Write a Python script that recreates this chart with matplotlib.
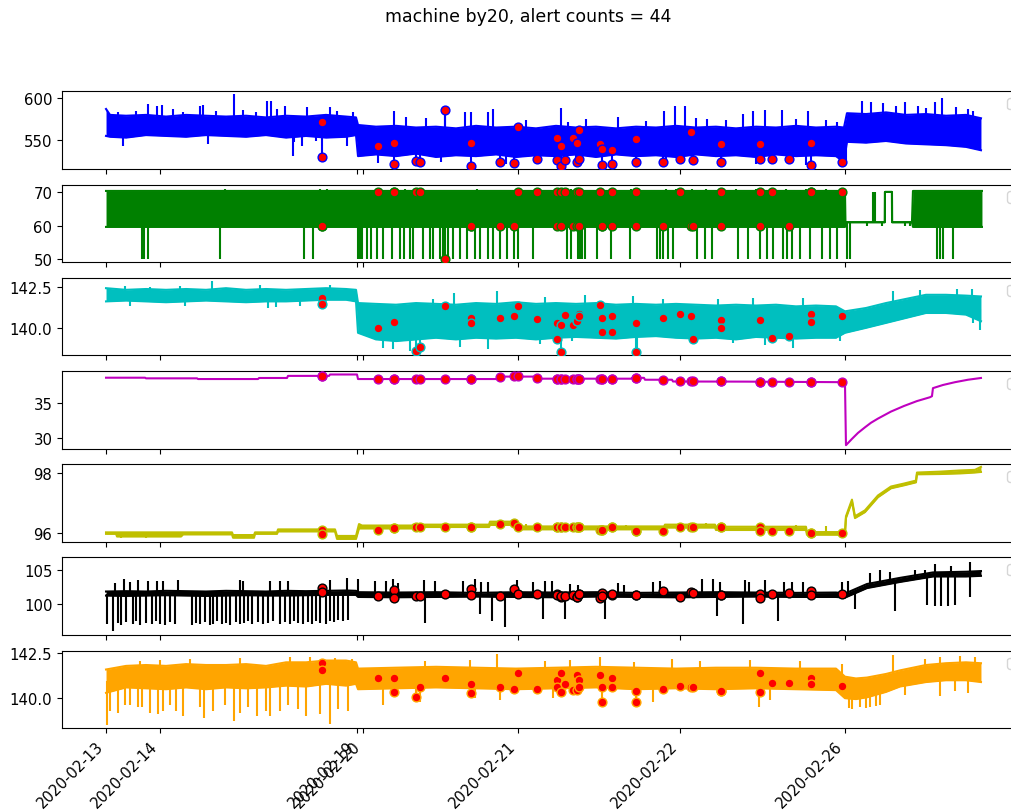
import numpy as np
import matplotlib
matplotlib.use('Agg')
import matplotlib.pyplot as plt

machine = 'by20'

# x axis is the sample position; dates are only shown at a few positions
tick_pos = [0, 54, 251, 257, 412, 574, 739]
tick_labels = ['2020-02-13', '2020-02-14', '2020-02-19', '2020-02-20',
               '2020-02-21', '2020-02-22', '2020-02-26']

# alert positions and the value of every channel at those positions
alert_t = [216, 216, 272, 288, 288, 310, 314, 339, 365, 365,
           394, 408, 412, 431, 451, 451, 455, 455, 459, 467,
           471, 471, 473, 473, 494, 496, 496, 506, 506, 530,
           530, 557, 574, 585, 587, 615, 615, 654, 654, 666,
           683, 705, 705, 736]
alert_blue = [572, 530, 543, 547, 522, 525, 524, 586, 547, 519,
              524, 523, 566, 528, 552, 526, 543, 519, 526, 552,
              547, 524, 562, 527, 545, 539, 520, 538, 522, 551,
              524, 524, 528, 560, 526, 546, 524, 546, 528, 527,
              528, 547, 520, 524]
alert_green = [60, 60, 70, 70, 70, 70, 70, 50, 60, 60,
               60, 60, 70, 70, 70, 60, 70, 60, 70, 60,
               70, 60, 70, 60, 70, 60, 60, 70, 60, 70,
               60, 60, 70, 60, 60, 70, 60, 70, 60, 70,
               60, 70, 70, 70]
alert_cyan = [141.8, 141.45, 140.0, 140.35, 140.35, 138.6, 138.85, 141.35, 140.6, 140.3,
              140.6, 140.7, 141.35, 140.55, 140.3, 139.3, 140.2, 138.55, 140.75, 140.2,
              140.4, 140.4, 140.85, 140.7, 141.4, 140.6, 139.75, 140.7, 139.75, 140.3,
              138.55, 140.6, 140.85, 140.7, 139.35, 140.5, 140.0, 140.5, 140.5, 139.4,
              139.5, 140.85, 140.35, 140.7]
alert_mag = [38.9, 38.9, 38.45, 38.45, 38.45, 38.45, 38.45, 38.45, 38.45, 38.45,
             38.8, 38.85, 38.85, 38.55, 38.5, 38.5, 38.5, 38.5, 38.5, 38.5,
             38.5, 38.5, 38.5, 38.5, 38.5, 38.5, 38.5, 38.5, 38.5, 38.6,
             38.6, 38.35, 38.1, 38.1, 38.1, 38.1, 38.1, 38.05, 38.05, 38.05,
             38.0, 38.0, 38.0, 38.0]
alert_olive = [96.1, 95.96, 96.1, 96.18, 96.18, 96.2, 96.2, 96.2, 96.2, 96.2,
               96.3, 96.32, 96.2, 96.2, 96.2, 96.2, 96.2, 96.2, 96.2, 96.2,
               96.2, 96.2, 96.2, 96.2, 96.1, 96.1, 96.1, 96.2, 96.2, 96.08,
               96.08, 96.08, 96.2, 96.2, 96.2, 96.2, 96.2, 96.2, 96.08, 96.08,
               96.08, 96.0, 96.0, 96.0]
alert_black = [102.25, 101.75, 101.1, 101.95, 100.8, 101.2, 101.2, 101.4, 102.1, 101.3,
               101.2, 102.1, 101.5, 101.5, 101.45, 101.3, 100.97, 101.15, 101.2, 101.25,
               101.0, 101.0, 101.5, 101.5, 100.8, 101.6, 101.2, 101.3, 101.4, 101.3,
               101.3, 101.85, 100.95, 101.7, 101.6, 101.35, 101.35, 101.5, 100.8, 101.45,
               101.6, 101.9, 101.35, 101.4]
alert_orange = [141.95, 141.55, 141.15, 141.15, 140.35, 140.05, 140.6, 141.15, 140.8, 140.3,
                140.6, 140.5, 141.4, 140.5, 141.0, 140.6, 141.4, 140.35, 140.8, 140.45,
                141.3, 140.45, 141.0, 140.6, 141.3, 140.6, 139.8, 141.1, 140.6, 140.4,
                139.8, 140.5, 140.7, 140.65, 140.65, 140.4, 140.4, 141.4, 140.35, 140.85,
                140.85, 141.1, 140.8, 140.7]

# channel 1 (blue): upper / lower edge of the noise band, plus single spikes
blue_t = [0, 4, 20, 40, 60, 80, 100, 120, 140, 160, 180, 200, 220, 240, 250,
          252, 270, 290, 310, 330, 350, 370, 390, 410, 430, 450, 470, 490, 510,
          530, 550, 570, 590, 610, 630, 650, 670, 690, 710, 730, 738,
          741, 760, 780, 800, 820, 840, 860, 875]
blue_hi = [587, 580, 579, 580, 578, 580, 579, 578, 579, 577, 579, 578, 580, 578, 577,
           568, 566, 567, 565, 566, 564, 567, 565, 566, 564, 567, 565, 566, 564,
           566, 565, 567, 565, 566, 564, 566, 565, 567, 565, 566, 565,
           582, 581, 583, 580, 581, 579, 580, 576]
blue_lo = [555, 554, 553, 556, 555, 554, 556, 555, 554, 556, 553, 555, 553, 554, 556,
           531, 533, 531, 534, 530, 532, 531, 533, 530, 532, 531, 533, 530, 533,
           531, 532, 530, 533, 531, 532, 530, 533, 531, 532, 531, 524,
           548, 547, 549, 546, 545, 544, 542, 538]
blue_spike_t = [42, 51, 56, 67, 94, 97, 128, 161, 165, 171, 179, 201, 224, 231, 288,
                339, 359, 365, 382, 387, 455, 462, 512, 558, 569, 579, 601, 637, 647,
                659, 676, 702, 731, 756, 765, 777, 799, 812, 829, 836, 862, 867,
                17, 102, 187, 196, 241, 272, 310, 335, 400, 430, 455, 470, 530, 560,
                615, 650, 700, 740,
                12, 30, 77, 110, 137, 150, 188, 210, 247, 300, 320, 420, 480, 540,
                590, 620, 690, 720, 790, 820, 850]
blue_spike_v = [593, 591, 592, 587, 591, 592, 604.8, 597, 596, 587, 591, 589, 589, 585, 585,
                587, 584, 583, 583, 587, 587.6, 571, 578, 585, 591, 591, 575, 581, 585,
                586, 586, 585, 571, 597, 595, 594, 595, 591, 595, 600, 587, 585,
                543, 545, 531.6, 543, 543, 523, 521, 524, 522, 525, 521, 524, 525, 523,
                524, 522, 521, 522,
                584, 585, 584, 585, 586, 584, 548, 549, 583, 577, 576, 574, 575, 573,
                576, 574, 575, 574, 590, 588, 589]

# channel 2 (green): switches between 60 and 70
green_t = [0, 739, 739.5, 778.9, 779, 786, 786.1, 806, 807, 876]
green_hi = [70.3, 70.3, 61, 61, 70, 70, 61, 61, 70.3, 70.3]
green_lo = [59.6, 59.6, 61, 61, 70, 70, 61, 61, 59.6, 59.6]
green_dip_floor = 50.0
green_dip_t = [36, 38, 42, 114, 198, 207, 252, 254, 256, 261, 265, 271, 277, 286, 294,
               298, 304, 307, 317, 324, 327, 334, 337, 342, 347, 354, 361, 369, 374,
               382, 387, 394, 401, 408, 412, 427, 461, 465, 472, 474, 476, 479, 491,
               505, 524, 551, 554, 557, 562, 567, 591, 599, 606, 632, 642, 654, 661,
               667, 677, 681, 686, 694, 704, 716, 724, 731, 741, 744, 831, 834, 837, 847]
green_spike_t = [119, 214, 221, 272, 290, 299, 371, 465, 470, 525, 560, 570, 586, 600,
                 630, 650, 680, 700, 720, 761, 776, 799, 804, 767, 769]
green_spike_v = [71, 71, 71, 71, 71, 71, 71, 71, 71, 71, 71, 71, 71, 71,
                 71, 71, 71, 71, 71, 60, 60, 60, 60, 70, 70]

# channel 3 (cyan)
cyan_t = [0, 20, 40, 60, 80, 100, 120, 140, 160, 180, 200, 220, 240, 250,
          252, 270, 290, 310, 330, 350, 370, 390, 410, 430, 450, 470, 490, 510,
          530, 550, 570, 590, 610, 630, 650, 670, 690, 710, 730,
          739, 760, 780, 800, 820, 840, 860, 875]
cyan_hi = [142.4, 142.3, 142.35, 142.3, 142.35, 142.3, 142.4, 142.3, 142.35, 142.3,
           142.35, 142.4, 142.35, 142.3,
           141.5, 141.45, 141.4, 141.5, 141.45, 141.4, 141.5, 141.45, 141.55, 141.45,
           141.5, 141.45, 141.5, 141.4, 141.45, 141.4, 141.45, 141.4, 141.35, 141.4,
           141.35, 141.4, 141.3, 141.35, 141.3,
           141.0, 141.2, 141.5, 141.75, 142.0, 142.0, 141.95, 141.9]
cyan_lo = [141.6, 141.65, 141.6, 141.55, 141.6, 141.65, 141.6, 141.55, 141.6, 141.6,
           141.65, 141.7, 141.7, 141.6,
           139.7, 139.3, 139.2, 139.3, 139.4, 139.3, 139.4, 139.35, 139.4, 139.3,
           139.4, 139.45, 139.4, 139.35, 139.45, 139.5, 139.4, 139.35, 139.4, 139.3,
           139.45, 139.4, 139.35, 139.4, 139.4,
           139.7, 140.0, 140.3, 140.6, 140.9, 140.9, 140.8, 140.4]
cyan_spike_t = [106, 19, 44, 74, 154, 224, 24, 79, 162, 170, 194,
                277, 287, 304, 354, 382, 434, 466, 531, 627, 659, 687, 734,
                327, 348, 391, 439, 479, 527, 557, 612, 647, 697,
                787, 814, 851, 866, 867, 874]
cyan_spike_v = [142.81, 142.55, 142.5, 142.55, 142.6, 142.6, 141.35, 141.3, 141.2, 141.25, 141.3,
                138.8, 138.7, 138.6, 138.85, 138.7, 139.0, 139.2, 138.7, 139.1, 138.95, 138.8, 139.2,
                141.75, 142.1, 142.2, 141.85, 142.0, 141.95, 141.75, 141.75, 141.8, 141.8,
                142.25, 142.3, 142.35, 142.35, 140.3, 139.9]

# channel 4 (magenta): smooth level, sharp drop and recovery at the end
mag_t = [0, 39, 40, 91, 92, 152, 153, 181, 182, 223, 224, 251, 252, 393, 394, 430,
         431, 525, 526, 538, 539, 566, 567, 640, 739, 740, 743, 746, 752, 759, 765,
         772, 785, 798, 811, 824, 826, 827, 837, 849, 862, 875]
mag_v = [38.64, 38.64, 38.55, 38.55, 38.45, 38.45, 38.6, 38.6, 38.9, 38.9, 39.1, 39.1,
         38.45, 38.45, 38.8, 38.8, 38.5, 38.5, 38.62, 38.62, 38.35, 38.35, 38.1, 38.08,
         38.0, 29.0, 29.45, 29.9, 30.75, 31.55, 32.2, 32.8, 33.8, 34.6, 35.3, 35.85,
         36.0, 37.15, 37.6, 38.0, 38.35, 38.6]

# channel 5 (olive)
olive_t = [0, 10, 11, 75, 77, 126, 127, 148, 149, 171, 172, 229, 231, 250, 253, 256,
           306, 307, 383, 384, 409, 410, 558, 559, 609, 610, 700, 701, 739, 740, 746,
           749, 759, 772, 785, 798, 810, 811, 834, 854, 869, 875]
olive_hi = [96.02, 96.02, 96.02, 96.02, 96.02, 96.02, 95.93, 95.93, 96.02, 96.02,
            96.12, 96.12, 95.9, 95.9, 96.3, 96.25, 96.25, 96.28, 96.28, 96.38, 96.38,
            96.22, 96.22, 96.28, 96.28, 96.21, 96.21, 96.03, 96.03, 96.56, 97.12,
            96.56, 96.76, 97.26, 97.56, 97.66, 97.76, 98.03, 98.06, 98.1, 98.12, 98.22]
olive_lo = [95.97, 95.97, 95.88, 95.88, 95.95, 95.95, 95.84, 95.84, 95.97, 95.97,
            96.05, 96.05, 95.8, 95.8, 96.15, 96.15, 96.15, 96.2, 96.2, 96.27, 96.27,
            96.12, 96.12, 96.18, 96.18, 96.1, 96.1, 95.94, 95.94, 96.5, 97.05,
            96.5, 96.7, 97.2, 97.5, 97.6, 97.7, 97.97, 97.98, 98.0, 98.03, 98.05]
olive_spike_t = [15, 40, 60, 140, 145, 240, 245, 395, 420, 520, 600, 690, 720]
olive_spike_v = [95.84, 95.84, 95.85, 95.82, 95.82, 95.82, 95.83, 96.42, 96.3, 96.28,
                 96.33, 96.28, 96.25]

# channel 6 (black)
black_t = [0, 20, 40, 60, 80, 100, 120, 140, 160, 180, 200, 220, 240, 250,
           252, 290, 330, 370, 410, 450, 490, 530, 570, 610, 650, 690, 730,
           739, 761, 794, 827, 860, 875]
black_hi = [101.8, 101.85, 101.8, 101.9, 101.85, 101.8, 101.9, 101.85, 101.8, 101.9,
            101.85, 101.9, 101.95, 101.9,
            101.7, 101.65, 101.7, 101.6, 101.7, 101.65, 101.7, 101.6, 101.65, 101.7,
            101.65, 101.6, 101.65,
            101.5, 102.9, 103.8, 104.6, 104.7, 104.8]
black_lo = [101.2, 101.15, 101.2, 101.25, 101.2, 101.15, 101.2, 101.25, 101.2, 101.2,
            101.25, 101.3, 101.3, 101.3,
            101.0, 100.95, 101.0, 101.05, 101.0, 100.95, 101.05, 101.0, 100.95, 101.0,
            101.05, 101.0, 101.0,
            100.9, 102.3, 103.2, 104.0, 104.0, 104.1]
black_spike_t = [1, 7, 12, 15, 20, 27, 30, 34, 40, 46, 50, 54, 59, 64, 69, 86, 90, 94,
                 99, 104, 107, 111, 116, 120, 124, 130, 134, 138, 142, 146, 152, 157,
                 162, 167, 174, 179, 184, 188, 192, 197, 202, 206, 210, 214, 220, 224,
                 228, 232, 237, 242,
                 9, 18, 24, 32, 42, 51, 57, 72, 134, 137, 164, 174, 182, 224, 241, 252,
                 269, 280, 287, 292, 318, 329, 357, 369, 375, 382, 411, 427, 439, 446,
                 464, 472, 512, 518, 547, 554, 596, 607, 614, 639, 643, 659, 678, 686,
                 697, 736, 742,
                 319, 374, 386, 399, 437, 459, 499, 611, 637, 672, 749, 789, 821, 829,
                 835, 842, 849, 864,
                 764, 774, 784, 809, 819, 829, 845, 864]
black_spike_v = [97.0, 96.0, 97.2, 96.9, 97.3, 97.0, 97.4, 96.9, 97.2, 97.0, 97.4, 97.1,
                 96.9, 97.3, 97.0, 96.9, 97.2, 97.0, 97.3, 96.9, 97.1, 97.4, 97.0, 97.2,
                 96.9, 97.3, 97.0, 97.2, 97.4, 97.0, 97.3, 97.1, 97.2, 97.4, 97.0, 97.3,
                 97.1, 97.4, 97.2, 97.0, 97.3, 97.1, 97.5, 97.2, 97.0, 97.4, 97.3, 97.6,
                 97.5, 97.6,
                 103.0, 103.6, 103.2, 103.5, 103.3, 103.4, 103.3, 103.5, 103.5, 103.3,
                 103.4, 103.4, 103.3, 103.5, 103.75, 103.6,
                 103.4, 103.3, 103.6, 103.0, 103.5, 103.3, 103.4, 103.6, 103.2, 103.2,
                 103.5, 103.2, 103.3, 103.3, 102.9, 102.7, 103.0, 102.8, 103.2, 103.3,
                 103.7, 103.6, 103.2, 103.5, 103.2, 103.5, 103.2, 103.2, 103.2, 103.2,
                 103.3,
                 97.2, 98.5, 97.4, 96.6, 97.7, 97.7, 97.8, 98.2, 97.1, 97.4, 99.2, 99.0,
                 99.8, 99.6, 99.7, 99.6, 99.8, 101.0,
                 104.5, 104.9, 104.7, 105.0, 104.9, 105.8, 105.5, 106.2]

# channel 7 (orange)
orange_t = [0, 20, 40, 60, 80, 100, 120, 140, 160, 180, 200, 220, 240, 250,
            252, 290, 330, 370, 410, 450, 490, 530, 570, 610, 650, 690, 730,
            739, 750, 761, 780, 794, 820, 840, 860, 875]
orange_hi = [141.6, 141.8, 141.85, 141.8, 141.9, 141.85, 141.85, 141.9, 141.8, 142.0,
             142.0, 142.1, 142.1, 142.0,
             141.65, 141.7, 141.75, 141.7, 141.65, 141.7, 141.75, 141.7, 141.65, 141.7,
             141.7, 141.65, 141.65,
             141.2, 141.1, 141.15, 141.35, 141.55, 141.85, 141.95, 142.0, 141.95]
orange_lo = [140.3, 140.6, 140.55, 140.5, 140.6, 140.5, 140.6, 140.55, 140.6, 140.7,
             140.65, 140.8, 140.7, 140.8,
             140.5, 140.55, 140.6, 140.55, 140.5, 140.55, 140.6, 140.5, 140.55, 140.5,
             140.55, 140.5, 140.45,
             140.0, 139.95, 140.05, 140.35, 140.65, 140.9, 141.0, 141.0, 140.9]
orange_spike_t = [1, 4, 12, 19, 24, 32, 36, 44, 52, 57, 64, 70, 77, 94, 98, 107, 119,
                  128, 134, 142, 151, 160, 164, 174, 182, 192, 200, 214, 224, 232, 242,
                  277, 314, 369, 394, 447, 547, 653, 664,
                  34, 54, 84, 134, 184, 204, 229, 246,
                  319, 364, 391, 439, 464, 494, 528, 566, 594, 644, 694, 736,
                  787, 819, 834, 854, 869, 743, 746, 754, 760, 764, 770, 774, 799, 834,
                  849, 862]
orange_spike_v = [138.5, 139.3, 139.2, 139.6, 139.6, 139.5, 139.5, 139.2, 139.1, 139.3,
                  139.6, 139.3, 139.0, 139.5, 138.9, 139.3, 139.6, 138.75, 139.2, 139.5,
                  139.0, 139.3, 139.0, 139.3, 139.6, 139.4, 139.0, 139.1, 138.55, 139.4,
                  139.3,
                  139.6, 139.8, 140.0, 139.9, 140.0, 139.8, 139.5, 139.9,
                  142.1, 142.15, 142.2, 142.25, 142.3, 142.3, 142.25, 142.2,
                  142.1, 142.15, 142.45, 142.1, 142.15, 142.3, 142.0, 142.2, 142.1,
                  142.15, 142.05, 141.9,
                  142.4, 142.2, 142.3, 142.35, 142.3, 139.45, 139.4, 139.5, 139.45,
                  139.5, 139.55, 139.6, 140.2, 140.1, 140.4, 140.3]

y_limits = [(515.7, 608), (49.1, 72.2), (138.33, 143.03), (28.5, 39.6),
            (95.7, 98.31), (95.4, 106.8), (138.32, 142.65)]


def draw_band(ax, t, hi, lo, spike_t, spike_v, alerts, color):
    t = np.asarray(t, dtype=float)
    hi = np.asarray(hi, dtype=float)
    lo = np.asarray(lo, dtype=float)
    mid = (hi + lo) / 2
    ax.fill_between(t, lo, hi, color=color, linewidth=0)
    ax.plot(t, hi, color=color, lw=1.5)
    ax.plot(t, lo, color=color, lw=1.5)
    if len(spike_t):
        ax.vlines(spike_t, np.interp(spike_t, t, mid), spike_v, color=color, lw=1.5)
    ax.vlines(alert_t, np.interp(alert_t, t, mid), alerts, color=color, lw=1.5)


plt.rcParams['xtick.labelsize'] = 10.7
plt.rcParams['ytick.labelsize'] = 10.7

fig, axes = plt.subplots(7, 1, sharex=True, figsize=(10.12, 8.12), dpi=100,
                         gridspec_kw=dict(left=0.0613, right=1.0128, top=0.8863,
                                          bottom=0.1018, hspace=0.2))

draw_band(axes[0], blue_t, blue_hi, blue_lo, blue_spike_t, blue_spike_v, alert_blue, 'b')

draw_band(axes[1], green_t, green_hi, green_lo, green_spike_t, green_spike_v, alert_green, 'g')
axes[1].vlines(green_dip_t, 61, green_dip_floor, color='g', lw=1.5)

draw_band(axes[2], cyan_t, cyan_hi, cyan_lo, cyan_spike_t, cyan_spike_v, alert_cyan, 'c')

axes[3].plot(mag_t, mag_v, color='m', lw=1.5)

draw_band(axes[4], olive_t, olive_hi, olive_lo, olive_spike_t, olive_spike_v, alert_olive, 'y')
draw_band(axes[5], black_t, black_hi, black_lo, black_spike_t, black_spike_v, alert_black, 'k')
draw_band(axes[6], orange_t, orange_hi, orange_lo, orange_spike_t, orange_spike_v,
          alert_orange, 'orange')

alert_sets = [alert_blue, alert_green, alert_cyan, alert_mag, alert_olive,
              alert_black, alert_orange]
colors = ['b', 'g', 'c', 'm', 'y', 'k', 'orange']
for ax, vals, col, lim in zip(axes, alert_sets, colors, y_limits):
    ax.scatter(alert_t, vals, s=40, c='red', edgecolors=col, linewidths=1, zorder=3)
    ax.set_ylim(*lim)
    ax.legend(handles=[], loc='upper right')

axes[-1].set_xlim(-44, 919)
axes[-1].set_xticks(tick_pos)
axes[-1].set_xticklabels(tick_labels, rotation=45, ha='right')

fig.suptitle('machine %s, alert counts = %d' % (machine, len(alert_t)),
             x=0.522, y=0.99, fontsize=12.5)
fig.savefig('out.png', dpi=100)
